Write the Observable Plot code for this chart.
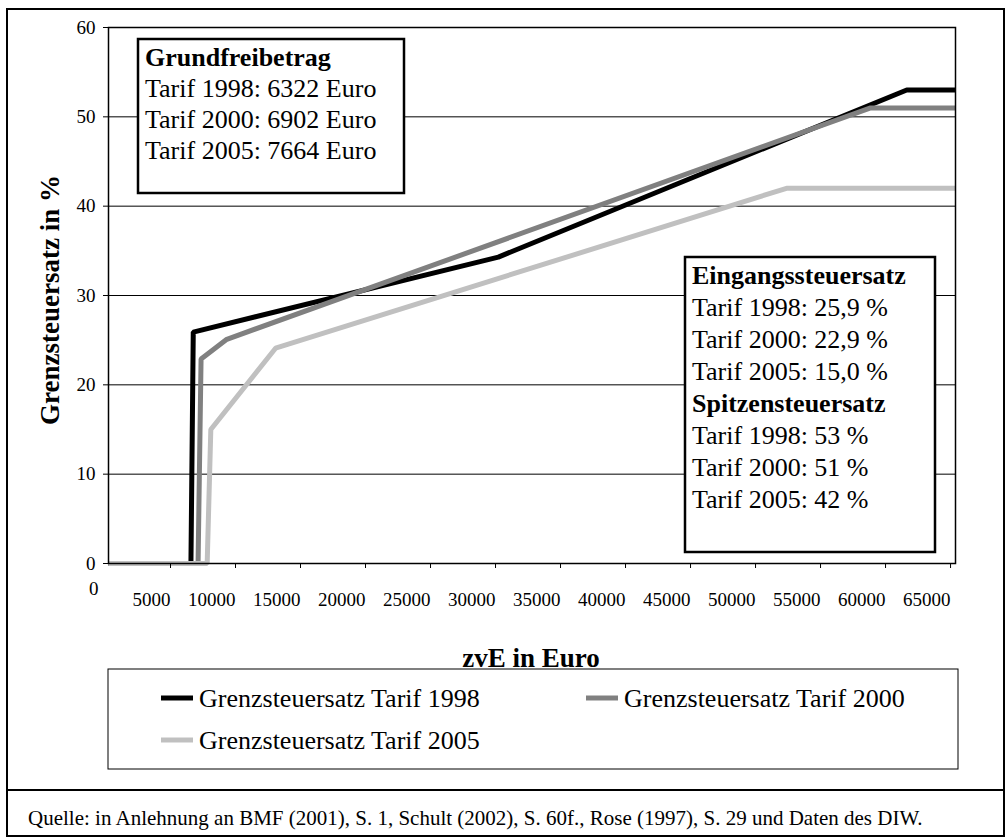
<!DOCTYPE html>
<html>
<head>
<meta charset="utf-8">
<script src="https://cdn.jsdelivr.net/npm/d3@7"></script>
<script src="https://cdn.jsdelivr.net/npm/@observablehq/plot@0.6"></script>
<style>
  html, body { margin: 0; padding: 0; background: #fff; }
  svg { display: block; }
</style>
</head>
<body>
<div id="chart"></div>
<script>
// ---- data ----
const seriesNames = ["Grenzsteuersatz Tarif 1998", "Grenzsteuersatz Tarif 2000", "Grenzsteuersatz Tarif 2005"];
const seriesColors = ["#000000", "#808080", "#c0c0c0"];

const x1998 = [0, 6340, 6520, 29984, 61400, 65150];
const y1998 = [0, 0, 25.9, 34.3, 53, 53];
const x2000 = [0, 6890, 7120, 9100, 58620, 65150];
const y2000 = [0, 0, 22.9, 25.1, 51, 51];
const x2005 = [0, 7590, 7870, 12850, 52151, 65150];
const y2005 = [0, 0, 15.0, 24.1, 42, 42];

const xTicks = [0, 5000, 10000, 15000, 20000, 25000, 30000, 35000, 40000, 45000, 50000, 55000, 60000, 65000];
const yTicks = [0, 10, 20, 30, 40, 50, 60];
const gridLines = [10, 20, 30, 40, 50];

const xTitle = "zvE in Euro";
const yTitle = "Grenzsteuersatz in %";
const boxLeftLines = ["Grundfreibetrag", "Tarif 1998: 6322 Euro", "Tarif 2000: 6902 Euro", "Tarif 2005: 7664 Euro"];
const boxLeftBold = [true, false, false, false];
const boxRightLines = ["Eingangssteuersatz", "Tarif 1998: 25,9 %", "Tarif 2000: 22,9 %", "Tarif 2005: 15,0 %",
                       "Spitzensteuersatz", "Tarif 1998: 53 %", "Tarif 2000: 51 %", "Tarif 2005: 42 %"];
const boxRightBold = [true, false, false, false, true, false, false, false];
const caption = "Quelle: in Anlehnung an BMF (2001), S. 1, Schult (2002), S. 60f., Rose (1997), S. 29 und Daten des DIW.";

// table for Plot
const rows = [];
[[x1998, y1998], [x2000, y2000], [x2005, y2005]].forEach(([xs, ys], i) => {
  xs.forEach((x, j) => rows.push({series: seriesNames[i], x, y: ys[j]}));
});

const FONT = "'Liberation Serif', 'Times New Roman', serif";

const svg = Plot.plot({
  width: 1008,
  height: 839,
  marginLeft: 108,
  marginRight: 53,
  marginTop: 27,
  marginBottom: 276,
  style: {fontFamily: FONT, fontSize: "19px", color: "#000", background: "#fff", overflow: "visible"},
  x: {domain: [0, 65150]},
  y: {domain: [0, 60]},
  color: {domain: seriesNames, range: seriesColors},
  marks: [
    Plot.ruleY(gridLines, {stroke: "#000", strokeWidth: 1, strokeOpacity: 1}),
    Plot.line(rows, {x: "x", y: "y", z: "series", stroke: "series", strokeWidth: 5, strokeLinejoin: "miter", strokeLinecap: "butt"}),
    Plot.frame({stroke: "#000", strokeWidth: 1.5}),
    Plot.axisX(xTicks.slice(1), {tickSize: 5, tickPadding: 24, textAnchor: "end", dx: -3, fontSize: 19, tickFormat: d => String(d), label: null, stroke: "#000"}),
    Plot.text(xTicks.slice(0, 1), {x: d => d, y: () => 0, text: d => String(d), textAnchor: "end", dx: -10, dy: 25, fontSize: 19, fill: "#000"}),
    Plot.axisY(yTicks, {tickSize: 5, tickPadding: 8, fontSize: 19, tickFormat: d => String(d), label: null, stroke: "#000"})
  ]
});

document.getElementById("chart").appendChild(svg);

// ---- annotations, legend, titles, caption ----
const s = d3.select(svg);

function addText(x, y, t, size, bold, anchor) {
  return s.append("text").attr("x", x).attr("y", y)
    .attr("font-family", FONT).attr("font-size", size)
    .attr("font-weight", bold ? "bold" : "normal")
    .attr("text-anchor", anchor || "start").attr("fill", "#000").text(t);
}

// outer border and separator
s.append("rect").attr("x", 7).attr("y", 9).attr("width", 997).attr("height", 827)
  .attr("fill", "none").attr("stroke", "#000").attr("stroke-width", 2);
s.append("line").attr("x1", 7).attr("x2", 1004).attr("y1", 790).attr("y2", 790)
  .attr("stroke", "#000").attr("stroke-width", 2);

function textBox(x, y, w, h, lines, bold, base0, step) {
  s.append("rect").attr("x", x).attr("y", y).attr("width", w).attr("height", h)
    .attr("fill", "#fff").attr("stroke", "#000").attr("stroke-width", 2.5);
  lines.forEach((t, i) => addText(x + 7, base0 + i * step, t, 26, bold[i], "start"));
}
textBox(138, 39, 266, 154, boxLeftLines, boxLeftBold, 66, 31);
textBox(685, 257, 250, 295, boxRightLines, boxRightBold, 284, 32);

// axis titles
addText(531, 667, xTitle, 27, true, "middle");
s.append("text").attr("transform", "translate(59,300) rotate(-90)").attr("text-anchor", "middle")
  .attr("font-family", FONT).attr("font-size", 27).attr("font-weight", "bold").attr("fill", "#000").text(yTitle);

// legend
s.append("rect").attr("x", 108).attr("y", 669).attr("width", 850).attr("height", 100)
  .attr("fill", "none").attr("stroke", "#000").attr("stroke-width", 1);
const legendPos = [[161, 698], [586, 698], [161, 740]];
seriesNames.forEach((n, i) => {
  const [lx, ly] = legendPos[i];
  s.append("line").attr("x1", lx).attr("x2", lx + 32).attr("y1", ly).attr("y2", ly)
    .attr("stroke", seriesColors[i]).attr("stroke-width", 5);
  addText(lx + 38, ly + 9, n, 26, false, "start");
});

// caption
addText(28, 825, caption, 21, false, "start");
</script>
</body>
</html>
